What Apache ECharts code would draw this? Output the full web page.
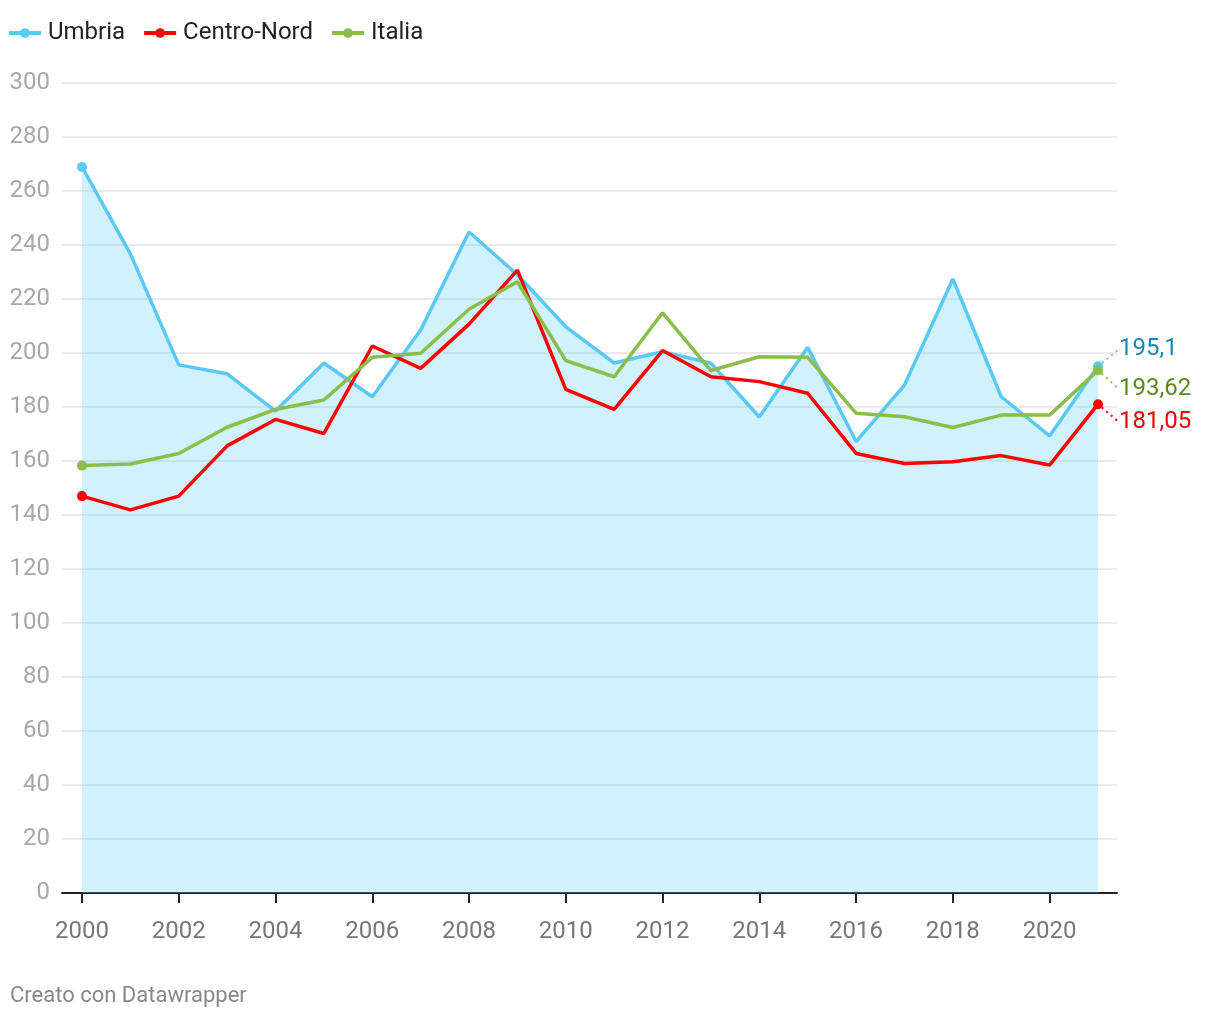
<!DOCTYPE html>
<html><head><meta charset="utf-8">
<script src="https://cdn.jsdelivr.net/npm/echarts@6/dist/echarts.min.js"></script>
<style>html,body{margin:0;padding:0;background:#fff}#c{width:1220px;height:1020px}</style>
</head><body><div id="c"></div>
<script>
const years = [2000,2001,2002,2003,2004,2005,2006,2007,2008,2009,2010,2011,2012,2013,2014,2015,2016,2017,2018,2019,2020,2021];
const umbria = [268.9,236.7,195.6,192.3,178.5,196.3,183.8,208.5,244.8,229.0,209.7,196.3,200.5,196.2,176.3,202.1,167.2,188.1,227.4,183.8,169.3,195.1];
const centroNord = [147.0,141.9,147.0,165.6,175.4,170.2,202.6,194.3,210.7,230.7,186.5,179.1,200.9,191.2,189.4,185.1,162.8,159.1,159.7,162.0,158.5,181.05];
const italia = [158.3,158.9,162.8,172.5,179.1,182.6,198.4,199.9,216.2,226.4,197.2,191.2,214.9,193.5,198.6,198.4,177.7,176.4,172.4,177.0,177.0,193.62];
const xTicks = [2000,2002,2004,2006,2008,2010,2012,2014,2016,2018,2020];
const yMin = 0, yMax = 300, yStep = 20;

const FONT = 'Roboto';
function build(vals){
  const n = vals.length;
  return vals.map((v,i)=>({value:[years[i], v], symbolSize:(i===0||i===n-1)?10:0}));
}
function fmt(v){ return String(v).replace('.', ','); }
function mk(name, vals, color, labelColor, dy, area){
  const data = build(vals);
  const last = data[data.length-1];
  last.label = {show:true, position:'right', distance:0, color:labelColor, fontSize:24, fontFamily:FONT,
    formatter: p => fmt(p.value[1])};
  last.labelLine = {show:true, lineStyle:{color:color, type:[2,4], width:2}};
  const s = {
    name, type:'line', data, symbol:'circle', symbolSize:10, showSymbol:true,
    lineStyle:{color, width:3.5}, itemStyle:{color}, z: area?2:3,
    labelLayout:{dx:16, dy:dy},
    labelLine:{show:true},
    emphasis:{disabled:true}, silent:true, animation:false
  };
  if(area) s.areaStyle = {color:'rgba(102,212,245,0.3)', opacity:1, origin:'start'};
  return s;
}
const chart = echarts.init(document.getElementById('c'), null, {renderer:'canvas'});
chart.setOption({
  animation:false,
  textStyle:{fontFamily:FONT},
  legend:{
    left:2, top:16, itemWidth:32, itemHeight:12, itemGap:17,
    lineStyle:{width:4},
    textStyle:{fontSize:24, color:'#222', fontFamily:FONT, padding:[0,0,0,2]},
    data:['Umbria','Centro-Nord','Italia']
  },
  grid:{left:62, right:103, top:83, bottom:127},
  xAxis:{
    type:'value', min:1999.587, max:2021.393,
    splitLine:{show:false},
    axisLine:{show:true, lineStyle:{color:'#222', width:2}},
    axisTick:{show:true, customValues:xTicks, length:10, lineStyle:{color:'#222', width:2}},
    axisLabel:{customValues:xTicks, color:'#777', fontSize:24, margin:27, fontFamily:FONT, formatter: v=>String(v)}
  },
  yAxis:{
    type:'value', min:yMin, max:yMax, interval:yStep,
    axisLine:{show:false}, axisTick:{show:false},
    splitLine:{show:true, lineStyle:{color:'#e2e2e2', width:1.5}},
    axisLabel:{color:'#a8a8a8', fontSize:24, margin:12, fontFamily:FONT}
  },
  series:[
    mk('Umbria', umbria, '#5bc8f5', '#1587b8', -17, true),
    mk('Centro-Nord', centroNord, '#ff0000', '#f00000', 18, false),
    mk('Italia', italia, '#8bbd4a', '#5a8a1a', 19, false)
  ],
  graphic:[{type:'text', left:10, top:985, style:{text:'Creato con Datawrapper', fill:'#888', fontSize:22, fontFamily:FONT}}]
});
</script></body></html>
